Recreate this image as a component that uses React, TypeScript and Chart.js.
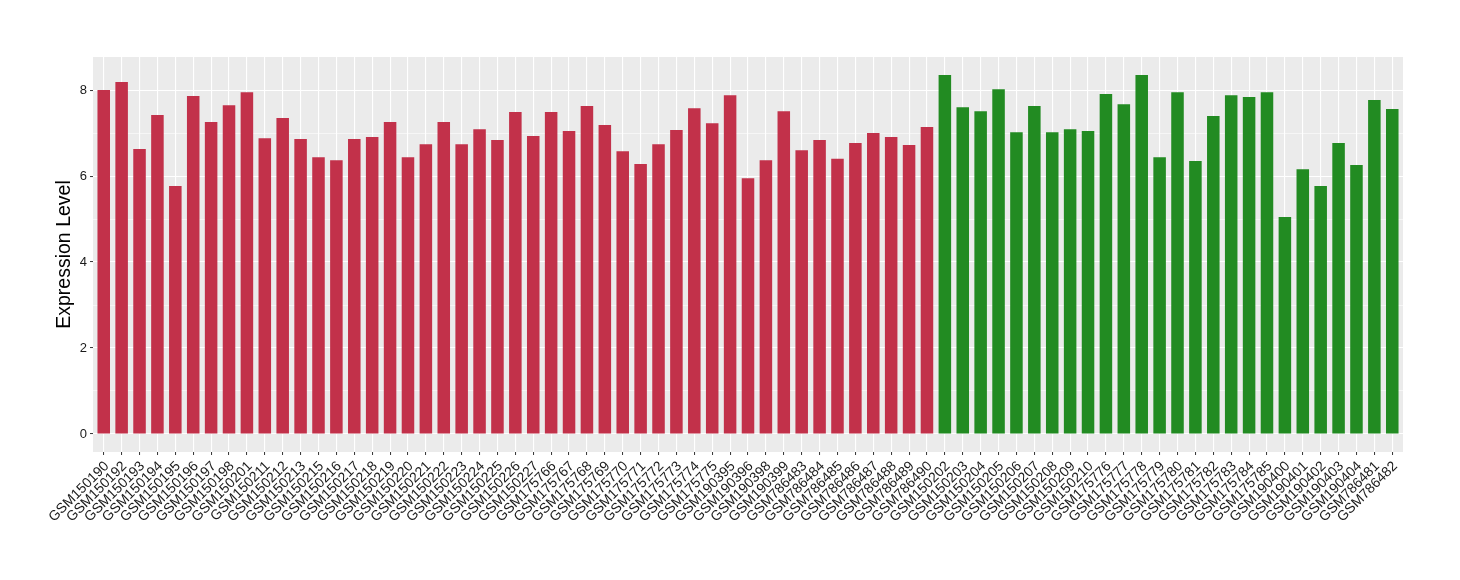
import React, { useEffect, useRef } from "react";
import { Chart, registerables } from "chart.js";

Chart.register(...registerables);

const redSamples = [
  "GSM150190", "GSM150192", "GSM150193", "GSM150194", "GSM150195", "GSM150196", "GSM150197", "GSM150198",
  "GSM150201", "GSM150211", "GSM150212", "GSM150213", "GSM150215", "GSM150216", "GSM150217", "GSM150218",
  "GSM150219", "GSM150220", "GSM150221", "GSM150222", "GSM150223", "GSM150224", "GSM150225", "GSM150226",
  "GSM150227", "GSM175766", "GSM175767", "GSM175768", "GSM175769", "GSM175770", "GSM175771", "GSM175772",
  "GSM175773", "GSM175774", "GSM175775", "GSM190395", "GSM190396", "GSM190398", "GSM190399", "GSM786483",
  "GSM786484", "GSM786485", "GSM786486", "GSM786487", "GSM786488", "GSM786489", "GSM786490",
];
const redValues = [
  8.0, 8.19, 6.63, 7.42, 5.77, 7.86, 7.26, 7.65,
  7.95, 6.88, 7.35, 6.86, 6.44, 6.37, 6.86, 6.91,
  7.26, 6.44, 6.74, 7.26, 6.74, 7.09, 6.84, 7.49,
  6.93, 7.49, 7.05, 7.63, 7.19, 6.58, 6.28, 6.74,
  7.07, 7.58, 7.23, 7.88, 5.95, 6.37, 7.51, 6.6,
  6.84, 6.4, 6.77, 7.0, 6.91, 6.72, 7.14,
];
const greenSamples = [
  "GSM150202", "GSM150203", "GSM150204", "GSM150205", "GSM150206", "GSM150207", "GSM150208", "GSM150209",
  "GSM150210", "GSM175776", "GSM175777", "GSM175778", "GSM175779", "GSM175780", "GSM175781", "GSM175782",
  "GSM175783", "GSM175784", "GSM175785", "GSM190400", "GSM190401", "GSM190402", "GSM190403", "GSM190404",
  "GSM786481", "GSM786482",
];
const greenValues = [
  8.35, 7.6, 7.51, 8.02, 7.02, 7.63, 7.02, 7.09,
  7.05, 7.91, 7.67, 8.35, 6.44, 7.95, 6.35, 7.4,
  7.88, 7.84, 7.95, 5.05, 6.16, 5.77, 6.77, 6.26,
  7.77, 7.56,
];
const yMajorTicks = [0, 2, 4, 6, 8];
const yAllTicks = [0, 1, 2, 3, 4, 5, 6, 7, 8];

const RED = "#C2314A";
const GREEN = "#228B22";
const FONT = "'Liberation Sans', Arial, Helvetica, sans-serif";

export default function App() {
  const ref = useRef<HTMLCanvasElement | null>(null);

  useEffect(() => {
    document.body.style.margin = "0";
    const labels = [...redSamples, ...greenSamples];
    const values = [...redValues, ...greenValues];
    const colors = [...redSamples.map(() => RED), ...greenSamples.map(() => GREEN)];

    const panelBg = {
      id: "panelBg",
      beforeDraw(chart: any) {
        const { ctx, chartArea } = chart;
        ctx.save();
        ctx.fillStyle = "#EBEBEB";
        ctx.fillRect(chartArea.left, chartArea.top, chartArea.right - chartArea.left, chartArea.bottom - chartArea.top);
        ctx.restore();
      },
    };

    const chart = new Chart(ref.current as HTMLCanvasElement, {
      type: "bar",
      data: {
        labels,
        datasets: [
          {
            data: values.map((v, i) => ({ x: i, y: v })) as any,
            backgroundColor: colors,
            barPercentage: 0.7,
            categoryPercentage: 1,
          },
        ],
      },
      options: {
        animation: false,
        responsive: false,
        maintainAspectRatio: false,
        layout: { padding: { left: 0, right: 57, top: 57, bottom: 0 } },
        plugins: { legend: { display: false }, tooltip: { enabled: false } },
        scales: {
          x: {
            type: "linear",
            min: -0.6,
            max: 72.6,
            offset: false,
            border: { display: false },
            grid: {
              offset: false,
              color: "#FFFFFF",
              lineWidth: 1.1,
              tickColor: "#333333",
              tickLength: 3,
              tickWidth: 1,
            },
            afterBuildTicks: (s: any) => {
              s.ticks = labels.map((_, i) => ({ value: i }));
            },
            ticks: {
              autoSkip: false,
              minRotation: 45,
              maxRotation: 45,
              padding: 3,
              labelOffset: 3,
              color: "#1A1A1A",
              font: { family: FONT, size: 14 },
              callback: (v: any) => labels[v] ?? "",
            },
            afterFit: (s: any) => {
              s.height = 128;
            },
          },
          y: {
            type: "linear",
            min: -0.42,
            max: 8.77,
            border: { display: false },
            grid: {
              color: "#FFFFFF",
              lineWidth: (c: any) => (c.tick && yMajorTicks.includes(c.tick.value) ? 1.1 : 0.55),
              tickColor: (c: any) => (c.tick && yMajorTicks.includes(c.tick.value) ? "#333333" : "rgba(0,0,0,0)"),
              tickLength: 3,
              tickWidth: 1,
            },
            afterBuildTicks: (s: any) => {
              s.ticks = yAllTicks.map((v) => ({ value: v }));
            },
            ticks: {
              padding: 3,
              color: "#1A1A1A",
              font: { family: FONT, size: 13 },
              callback: (v: any) => (yMajorTicks.includes(v) ? String(v) : ""),
            },
            title: {
              display: true,
              text: "Expression Level",
              color: "#000000",
              font: { family: FONT, size: 19.5 },
              padding: { top: 53, bottom: 0 },
            },
            afterFit: (s: any) => {
              s.width = 93;
            },
          },
        },
      },
      plugins: [panelBg],
    });
    return () => chart.destroy();
  }, []);

  return (
    <div style={{ position: "absolute", left: 0, top: 0, width: 1460, height: 580 }}>
      <canvas ref={ref} width={1460} height={580} style={{ display: "block" }} />
    </div>
  );
}
